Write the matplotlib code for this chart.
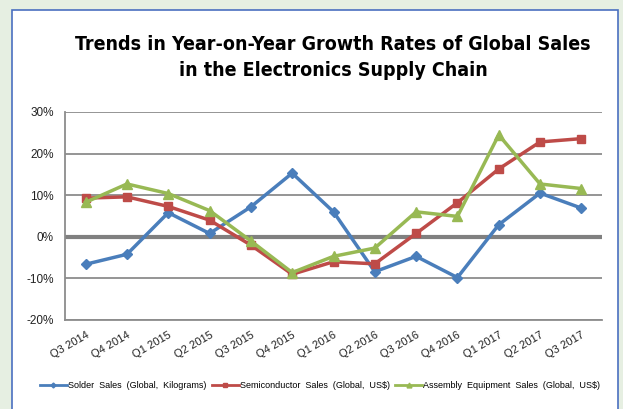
import matplotlib
matplotlib.use('Agg')
import matplotlib.pyplot as plt
from matplotlib.patches import Rectangle
from matplotlib.ticker import FuncFormatter

quarters = ['Q3 2014', 'Q4 2014', 'Q1 2015', 'Q2 2015', 'Q3 2015', 'Q4 2015', 'Q1 2016',
            'Q2 2016', 'Q3 2016', 'Q4 2016', 'Q1 2017', 'Q2 2017', 'Q3 2017']
solder = [-6.6, -4.2, 5.8, 0.8, 7.2, 15.3, 6.0, -8.4, -4.7, -9.8, 2.9, 10.5, 6.9]
semiconductor = [9.3, 9.6, 7.3, 4.0, -2.0, -9.0, -6.0, -6.5, 0.8, 8.2, 16.3, 22.8, 23.6]
assembly = [8.3, 12.7, 10.4, 6.3, -1.0, -8.6, -4.7, -2.7, 6.0, 4.9, 24.5, 12.7, 11.6]

plt.rcParams['font.family'] = ['Liberation Sans', 'DejaVu Sans']

W, H = 623, 409
fig = plt.figure(figsize=(W / 100, H / 100), dpi=100)
fig.patch.set_facecolor('#e6efe2')

# white panel with blue border
fig.patches.append(Rectangle((12 / W, -0.05), 606 / W, 1 - 10 / H + 0.05,
                             transform=fig.transFigure, facecolor='white',
                             edgecolor='#4a6fc0', linewidth=1.2, zorder=-5))

for txt, yy in [('Trends in Year-on-Year Growth Rates of Global Sales', 45),
                ('in the Electronics Supply Chain', 71)]:
    fig.text(333 / W, 1 - yy / H, txt, ha='center', va='center', fontsize=14,
             fontweight='bold', family='DejaVu Sans', fontstretch='condensed')

ax = fig.add_axes([65 / W, 1 - 320 / H, (602 - 65) / W, (320 - 112) / H])
ax.set_facecolor('none')
x = list(range(len(quarters)))

ax.plot(x, solder, color='#4a7ebb', lw=2.5, marker='D', ms=5, label='Solder  Sales  (Global,  Kilograms)', zorder=3)
ax.plot(x, semiconductor, color='#be4b48', lw=2.5, marker='s', ms=6, label='Semiconductor  Sales  (Global,  US$)', zorder=3)
ax.plot(x, assembly, color='#98b954', lw=2.5, marker='^', ms=7, label='Assembly  Equipment  Sales  (Global,  US$)', zorder=4)

ax.set_xlim(-0.5, len(quarters) - 0.5)
ax.set_ylim(-20, 30)
ax.set_yticks(range(-20, 31, 10))
ax.yaxis.set_major_formatter(FuncFormatter(lambda v, p: f'{int(v)}%'))
ax.grid(axis='y', color='#8c8c8c', lw=1.3, zorder=1)
ax.axhline(0, color='#808080', lw=3, zorder=2)
ax.set_xticks(x)
ax.set_xticklabels(quarters, rotation=30, ha='right', rotation_mode='anchor', fontsize=8)
ax.tick_params(axis='y', labelsize=8.5, length=0, pad=8, labelcolor='#222222')
ax.tick_params(axis='x', length=0, pad=7, labelcolor='#222222')
for s in ['top', 'right']:
    ax.spines[s].set_visible(False)
ax.spines['left'].set_color('#8c8c8c')
ax.spines['left'].set_linewidth(1.3)
ax.spines['bottom'].set_color('#8c8c8c')
ax.spines['bottom'].set_linewidth(1.3)

leg = fig.legend(loc='center', bbox_to_anchor=(320 / W, 1 - 386 / H), ncol=3, frameon=False,
                 fontsize=6.5, handlelength=3.0, handletextpad=0.1, columnspacing=0.6,
                 markerscale=0.5)
for ln in leg.get_lines():
    ln.set_linewidth(2)

fig.savefig('out.png', dpi=100, facecolor=fig.get_facecolor())
